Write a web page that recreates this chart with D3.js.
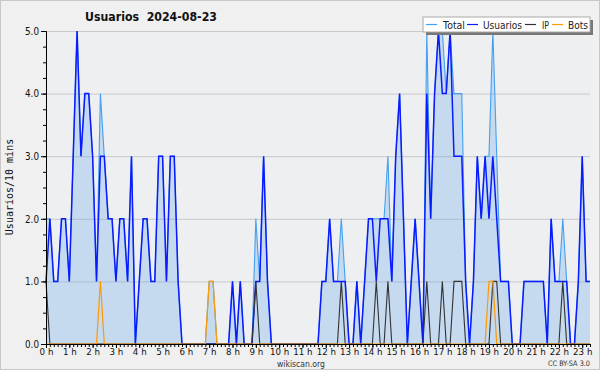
<!DOCTYPE html>
<html><head><meta charset="utf-8">
<script src="https://cdn.jsdelivr.net/npm/d3@7"></script>
<style>html,body{margin:0;padding:0;background:#f0f0f0;}svg{display:block;}</style>
</head><body>
<svg id="c" width="600" height="370"></svg>
<script>
// 10-minute slots from 00:00 to 23:20
const hourLabels = ["0 h","1 h","2 h","3 h","4 h","5 h","6 h","7 h","8 h","9 h","10 h","11 h","12 h","13 h","14 h","15 h","16 h","17 h","18 h","19 h","20 h","21 h","22 h","23 h"];
const yTicks = [0,1,2,3,4,5];
const usuarios = [
 1,2,1,1,2,2,1,3,5,3,
 4,4,3,1,3,3,2,2,1,2,
 2,1,3,0,1,2,2,1,1,3,
 3,1,3,3,1,0,0,0,0,0,
 0,0,0,0,0,0,0,0,1,0,
 1,0,0,0,1,1,3,1,0,0,
 0,0,0,0,0,0,0,0,0,0,
 0,1,1,2,1,1,1,1,0,0,
 1,0,1,2,2,1,2,2,2,1,
 3,4,2,0,1,2,1,0,4,2,
 4,5,4,4,5,3,3,3,1,0,
 1,3,2,3,2,3,2,1,1,1,
 0,0,0,1,1,1,1,1,1,0,
 2,1,1,1,1,0,0,1,3,1,1];
const ip = [
 1,0,0,0,0,0,0,0,0,0,
 0,0,0,0,0,0,0,0,0,0,
 0,0,0,0,0,0,0,0,0,0,
 0,0,0,0,0,0,0,0,0,0,
 0,0,0,0,0,0,0,0,0,0,
 0,0,0,0,1,0,0,0,0,0,
 0,0,0,0,0,0,0,0,0,0,
 0,0,0,0,0,0,1,0,0,0,
 0,0,0,0,0,1,0,0,1,0,
 0,0,0,0,0,0,0,0,1,0,
 0,0,1,0,0,1,1,1,0,0,
 0,0,0,0,0,1,1,0,0,0,
 0,0,0,0,0,0,0,0,0,0,
 0,0,0,1,0,0,0,0,0,0,0];
const bots = [
 0,0,0,0,0,0,0,0,0,0,
 0,0,0,0,1,0,0,0,0,0,
 0,0,0,0,0,0,0,0,0,0,
 0,0,0,0,0,0,0,0,0,0,
 0,0,1,1,0,0,0,0,0,0,
 0,0,0,0,0,0,0,0,0,0,
 0,0,0,0,0,0,0,0,0,0,
 0,0,0,0,0,0,0,0,0,0,
 0,0,0,0,0,0,0,0,0,0,
 0,0,0,0,0,0,0,0,0,0,
 0,0,0,0,0,0,0,0,0,0,
 0,0,0,0,1,1,0,0,0,0,
 0,0,0,0,0,0,0,0,0,0,
 0,0,0,0,0,0,0,0,0,0,0];
const total = [
 2,2,1,1,2,2,1,3,5,3,
 4,4,3,1,4,3,2,2,1,2,
 2,1,3,0,1,2,2,1,1,3,
 3,1,3,3,1,0,0,0,0,0,
 0,0,1,1,0,0,0,0,1,0,
 1,0,0,0,2,1,3,1,0,0,
 0,0,0,0,0,0,0,0,0,0,
 0,1,1,2,1,1,2,1,0,0,
 1,0,1,2,2,2,2,2,3,1,
 3,4,2,0,1,2,1,0,5,2,
 4,5,5,4,5,4,4,4,1,0,
 1,3,2,3,3,5,3,1,1,1,
 0,0,0,1,1,1,1,1,1,0,
 2,1,1,2,1,0,0,1,3,1,1];
const seriesNames = ["Total","Usuarios","IP","Bots"];
const seriesColors = ["#44a0f0","#0a1cff","#333333","#ff9a00"];

const FONT = "'DejaVu Sans', sans-serif";
// approximate condensed width: ~0.55 of font size per character
const condensed = (sel, size) => sel.each(function(){
  const t = d3.select(this).text();
  const w = t.split("").reduce((a,c)=> a + (c===" " ? 0.28 : (c==="." ? 0.3 : 0.55)), 0) * size;
  d3.select(this).attr("textLength", w).attr("lengthAdjust","spacingAndGlyphs");
});
const svg = d3.select("#c");
const X0 = 46, X1 = 590, Y0 = 344, Y1 = 31;
const x = d3.scaleLinear().domain([0, usuarios.length - 1]).range([X0, X1]);
const y = d3.scaleLinear().domain([0, 5]).range([Y0, Y1]);

// background + border
svg.append("rect").attr("x",0.5).attr("y",0.5).attr("width",599).attr("height",369)
  .attr("fill","#f0f0f0").attr("stroke","#c8c8c8");
svg.append("rect").attr("x",X0).attr("y",Y1).attr("width",X1-X0).attr("height",Y0-Y1).attr("fill","#eeeff1");

// grid
svg.append("g").selectAll("line").data(yTicks.filter(d=>d>0)).join("line")
  .attr("x1",X0).attr("x2",X1).attr("y1",d=>y(d)+0.5).attr("y2",d=>y(d)+0.5)
  .attr("stroke","#c9c9cb").attr("stroke-width",1);

// area under total
svg.append("path").datum(total)
  .attr("d", d3.area().x((d,i)=>x(i)).y0(Y0).y1(d=>y(d)))
  .attr("fill","#5aa0e8").attr("fill-opacity",0.27);

const line = d3.line().x((d,i)=>x(i)).y(d=>y(d));
const datasets = [total, usuarios, ip, bots];
const widths = [1.1, 1.5, 1.1, 1.2];
datasets.forEach((ds,k)=>{
  svg.append("path").datum(ds).attr("d", line).attr("fill","none")
    .attr("stroke", seriesColors[k]).attr("stroke-width", widths[k]).attr("stroke-linejoin","miter");
});

// axes
const gx = svg.append("g").attr("transform",`translate(0,${Y0})`);
gx.call(d3.axisBottom(x).tickValues(d3.range(0, usuarios.length)).tickFormat("").tickSize(3).tickSizeOuter(0));
const gxM = svg.append("g").attr("transform",`translate(0,${Y0})`);
gxM.call(d3.axisBottom(x).tickValues(hourLabels.map((d,i)=>i*6)).tickFormat((d,i)=>hourLabels[i]).tickSize(4).tickSizeOuter(0).tickPadding(0));
[gx,gxM].forEach(g=>{
  g.select(".domain").attr("stroke","#000");
  g.selectAll(".tick line").attr("stroke","#000");
});
gxM.selectAll("text").attr("font-family",FONT).attr("font-size",9.5).attr("fill","#111").call(condensed, 10);

const gyMinor = svg.append("g").attr("transform",`translate(${X0},0)`);
gyMinor.call(d3.axisLeft(y).tickValues(d3.range(0,5.01,0.25)).tickFormat("").tickSize(3).tickSizeOuter(0));
const gy = svg.append("g").attr("transform",`translate(${X0},0)`);
gy.call(d3.axisLeft(y).tickValues(yTicks).tickFormat(d3.format(".1f")).tickSize(5).tickSizeOuter(0).tickPadding(2));
[gy,gyMinor].forEach(g=>{
  g.select(".domain").attr("stroke","#000");
  g.selectAll(".tick line").attr("stroke","#000");
});
gy.selectAll("text").attr("font-family",FONT).attr("font-size",10).attr("fill","#111").call(condensed, 10);

// titles
svg.append("text").attr("x",85).attr("y",21).attr("font-family",FONT).attr("font-weight","bold")
  .attr("font-size",13).attr("fill","#111").attr("xml:space","preserve")
  .attr("textLength",132).attr("lengthAdjust","spacingAndGlyphs").text("Usuarios  2024-08-23");
svg.append("text").attr("transform","translate(13,187) rotate(-90)").attr("text-anchor","middle")
  .attr("font-family","DejaVu Sans Mono").attr("font-size",10).attr("fill","#111").text("Usuarios/10 mins");
svg.append("text").attr("x",301).attr("y",367).attr("text-anchor","middle")
  .attr("font-family",FONT).attr("font-size",9).attr("fill","#333")
  .attr("textLength",48).attr("lengthAdjust","spacingAndGlyphs").text("wikiscan.org");
svg.append("text").attr("x",590).attr("y",366).attr("text-anchor","end")
  .attr("font-family",FONT).attr("font-size",7.5).attr("fill","#333")
  .attr("textLength",42).attr("lengthAdjust","spacingAndGlyphs").text("CC BY-SA 3.0");

// legend
const lg = svg.append("g");
lg.append("rect").attr("x",426).attr("y",20).attr("width",167).attr("height",15).attr("fill","#777");
lg.append("rect").attr("x",423).attr("y",17).attr("width",167).attr("height",15).attr("fill","#fff").attr("stroke","#aaa");
const lx = [426, 467, 525, 552];
const tx = [443, 483, 542, 568];
const tw = [22, 39, 7, 20];
seriesNames.forEach((n,k)=>{
  lg.append("line").attr("x1",lx[k]).attr("x2",lx[k]+11).attr("y1",24.5).attr("y2",24.5)
    .attr("stroke",seriesColors[k]).attr("stroke-width",1.2);
  lg.append("text").attr("x",tx[k]).attr("y",28.5).attr("font-family",FONT).attr("font-size",11)
    .attr("fill","#222").attr("textLength",tw[k]).attr("lengthAdjust","spacingAndGlyphs").text(n);
});
</script>
</body></html>
